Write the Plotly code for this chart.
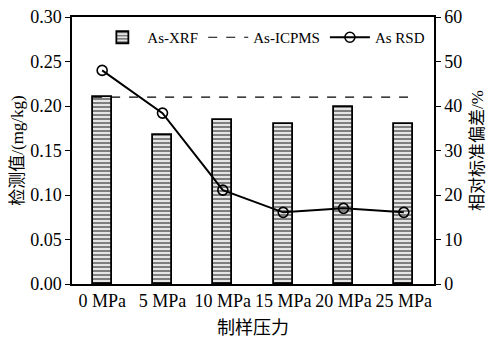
import plotly.graph_objects as go

categories = ["0 MPa", "5 MPa", "10 MPa", "15 MPa", "20 MPa", "25 MPa"]
xrf_values = [0.210, 0.167, 0.184, 0.180, 0.199, 0.180]
icpms_value = 0.210
rsd_values = [48.0, 38.4, 21.1, 16.1, 17.0, 16.1]

xpos = list(range(len(categories)))
font_family = "Liberation Serif, Times New Roman, Noto Sans CJK SC, serif"

fig = go.Figure()
fig.add_trace(go.Bar(
    x=xpos, y=xrf_values, name="As-XRF", width=0.32,
    marker=dict(color="white", line=dict(color="black", width=1.8),
                pattern=dict(shape="-", fgcolor="black", bgcolor="white", size=4, solidity=0.6)),
))
fig.add_trace(go.Scatter(
    x=[xpos[0] - 0.15, xpos[-1] + 0.07], y=[icpms_value, icpms_value], name="As-ICPMS",
    mode="lines", line=dict(color="black", width=1.2, dash="dash"),
))
fig.add_trace(go.Scatter(
    x=xpos, y=rsd_values, name="As RSD", yaxis="y2", mode="lines+markers",
    line=dict(color="black", width=2),
    marker=dict(symbol="circle-open", size=10, color="black", line=dict(width=1.6)),
))

fig.update_layout(
    width=491, height=338,
    margin=dict(l=72, r=57, t=17, b=54),
    paper_bgcolor="white", plot_bgcolor="white",
    font=dict(family=font_family, size=18, color="black"),
    bargap=0,
    showlegend=True,
    legend=dict(orientation="h", x=0.53, xanchor="center", y=0.985, yanchor="top",
                bgcolor="rgba(0,0,0,0)", font=dict(size=15), itemwidth=40,
                tracegroupgap=0),
    xaxis=dict(range=[-0.5, 5.5], tickvals=xpos, ticktext=categories, automargin=False,
               showline=True, linecolor="black", linewidth=1.5, mirror=True,
               ticks="", showgrid=False, zeroline=False,
               title=dict(text="制样压力", font=dict(size=18), standoff=18)),
    yaxis=dict(range=[0, 0.30], dtick=0.05, tickformat=".2f", automargin=False,
               showline=True, linecolor="black", linewidth=1.5, mirror=False,
               ticks="outside", ticklen=5, tickcolor="black", showgrid=False, zeroline=False,
               title=dict(text="检测值/(mg/kg)", font=dict(size=17), standoff=2)),
    yaxis2=dict(range=[0, 60], dtick=10, overlaying="y", side="right", automargin=False,
                showline=True, linecolor="black", linewidth=1.5,
                ticks="outside", ticklen=5, tickcolor="black", showgrid=False, zeroline=False,
                title=dict(text="相对标准偏差/%", font=dict(size=17), standoff=10)),
)

fig.write_html("out.html", config={"displayModeBar": False},
               post_script="document.body.style.margin='0';")
